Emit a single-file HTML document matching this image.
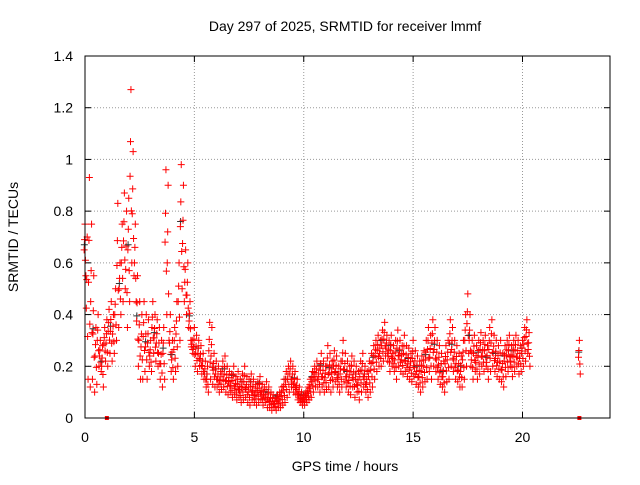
<!DOCTYPE html>
<html><head><meta charset="utf-8"><style>
body{margin:0;background:#fff;}
svg text{font-family:"Liberation Sans",sans-serif;font-size:14px;fill:#000;}
</style></head><body>
<svg id="chart" width="640" height="480" xmlns="http://www.w3.org/2000/svg">
<rect width="640" height="480" fill="#fff"/>
<text x="345" y="31" text-anchor="middle">Day 297 of 2025, SRMTID for receiver lmmf</text>
<text transform="translate(18,237) rotate(-90)" text-anchor="middle">SRMTID / TECUs</text>
<text x="345" y="471" text-anchor="middle">GPS time / hours</text>
<g id="grid"></g>
<g id="ticks"></g>
<g id="marks"></g>
<rect x="85" y="56" width="525" height="362" fill="none" stroke="#000" stroke-width="1"/>
</svg>
<script>
const xTicks=[0,5,10,15,20];
const yTicks=[0,0.2,0.4,0.6,0.8,1,1.2,1.4];
const yTickLabels=["0","0.2","0.4","0.6","0.8","1","1.2","1.4"];
const times=[0.0,0.1,0.2,0.3,0.4,0.5,0.6,0.7,0.8,0.9,1.0,1.1,1.2,1.3,1.4,1.5,1.6,1.7,1.8,1.9,2.0,2.1,2.2,2.3,2.4,2.5,2.6,2.7,2.8,2.9,3.0,3.1,3.2,3.3,3.4,3.5,3.6,3.7,3.8,3.9,4.0,4.1,4.2,4.3,4.4,4.5,4.6,4.7,4.8,4.9,5.0,5.1,5.2,5.3,5.4,5.5,5.6,5.7,5.8,5.9,6.0,6.1,6.2,6.3,6.4,6.5,6.6,6.7,6.8,6.9,7.0,7.1,7.2,7.3,7.4,7.5,7.6,7.7,7.8,7.9,8.0,8.1,8.2,8.3,8.4,8.5,8.6,8.7,8.8,8.9,9.0,9.1,9.2,9.3,9.4,9.5,9.6,9.7,9.8,9.9,10.0,10.1,10.2,10.3,10.4,10.5,10.6,10.7,10.8,10.9,11.0,11.1,11.2,11.3,11.4,11.5,11.6,11.7,11.8,11.9,12.0,12.1,12.2,12.3,12.4,12.5,12.6,12.7,12.8,12.9,13.0,13.1,13.2,13.3,13.4,13.5,13.6,13.7,13.8,13.9,14.0,14.1,14.2,14.3,14.4,14.5,14.6,14.7,14.8,14.9,15.0,15.1,15.2,15.3,15.4,15.5,15.6,15.7,15.8,15.9,16.0,16.1,16.2,16.3,16.4,16.5,16.6,16.7,16.8,16.9,17.0,17.1,17.2,17.3,17.4,17.5,17.6,17.7,17.8,17.9,18.0,18.1,18.2,18.3,18.4,18.5,18.6,18.7,18.8,18.9,19.0,19.1,19.2,19.3,19.4,19.5,19.6,19.7,19.8,19.9,20.0,20.1,20.2,20.3,22.6];
const upper=[.75,.70,.93,.75,.55,.35,.40,.30,.28,.35,.38,.42,.45,.40,.50,.83,.60,.75,.87,.80,.85,1.27,1.03,.75,.55,.45,.40,.45,.40,.38,.30,.45,.40,.38,.35,.30,.35,.96,.90,.40,.30,.35,.45,.60,.98,.90,.65,.60,.45,.30,.35,.32,.30,.28,.25,.22,.20,.37,.35,.25,.22,.20,.18,.22,.24,.20,.18,.17,.20,.16,.18,.15,.17,.20,.16,.15,.17,.15,.13,.14,.16,.13,.12,.14,.12,.10,.09,.08,.09,.10,.12,.15,.18,.20,.22,.20,.18,.15,.12,.10,.09,.10,.12,.15,.18,.20,.22,.20,.25,.22,.20,.28,.25,.22,.26,.24,.20,.22,.30,.25,.22,.20,.24,.22,.20,.18,.22,.25,.20,.18,.22,.25,.28,.30,.32,.30,.34,.37,.32,.30,.32,.28,.30,.34,.30,.28,.32,.28,.27,.25,.30,.26,.24,.22,.24,.26,.30,.35,.32,.38,.35,.30,.28,.25,.22,.28,.30,.38,.35,.30,.28,.25,.24,.30,.40,.48,.40,.30,.32,.28,.30,.33,.30,.32,.28,.35,.38,.32,.30,.28,.30,.25,.28,.30,.32,.28,.30,.32,.30,.28,.30,.35,.38,.33,.30];
const lower=[.55,.15,.12,.15,.10,.13,.20,.18,.12,.22,.20,.25,.22,.25,.30,.35,.40,.45,.50,.35,.45,.60,.55,.45,.20,.15,.15,.18,.15,.20,.18,.25,.22,.20,.15,.12,.15,.40,.30,.18,.15,.18,.20,.30,.50,.45,.40,.35,.30,.25,.20,.18,.20,.17,.15,.12,.10,.15,.13,.12,.12,.10,.11,.12,.10,.09,.10,.08,.09,.07,.08,.06,.07,.08,.06,.05,.07,.06,.05,.06,.07,.05,.06,.04,.04,.03,.04,.03,.04,.04,.05,.06,.08,.10,.12,.10,.09,.07,.06,.05,.05,.06,.07,.08,.10,.12,.12,.10,.12,.10,.11,.12,.10,.12,.14,.12,.10,.12,.14,.12,.10,.09,.12,.08,.10,.07,.10,.12,.10,.08,.10,.12,.15,.18,.20,.20,.22,.24,.22,.18,.20,.18,.15,.20,.18,.17,.18,.16,.15,.14,.16,.13,.12,.10,.12,.14,.15,.18,.15,.20,.18,.15,.13,.12,.10,.14,.15,.20,.18,.15,.14,.12,.12,.15,.20,.25,.20,.15,.18,.15,.17,.20,.18,.20,.15,.18,.20,.18,.16,.15,.14,.12,.16,.18,.20,.16,.18,.20,.17,.18,.20,.22,.25,.20,.17];
const zeroTimes=[1.0,22.6];
const NS="http://www.w3.org/2000/svg";
const X0=85,X1=610,Y0=418,Y1=56;
function xs(t){return X0+(t/24)*(X1-X0);}
function ys(v){return Y0-(v/1.4)*(Y0-Y1);}
const grid=document.getElementById('grid'),ticks=document.getElementById('ticks'),marks=document.getElementById('marks');
function mk(tag,a,p){const e=document.createElementNS(NS,tag);for(const k in a)e.setAttribute(k,a[k]);p.appendChild(e);return e;}
xTicks.forEach(t=>{
  const x=xs(t);
  if(t>0){const g=mk('line',{x1:x,y1:Y0,x2:x,y2:Y1,stroke:'#999','stroke-dasharray':'1,2'},grid);
  
  }
  mk('line',{x1:x,y1:Y0,x2:x,y2:Y0-6,stroke:'#000'},ticks);
  mk('line',{x1:x,y1:Y1,x2:x,y2:Y1+6,stroke:'#000'},ticks);
  const l=mk('text',{x:x,y:Y0+24,'text-anchor':'middle'},ticks);l.textContent=t;
  
  
});
yTicks.forEach((v,i)=>{
  const y=ys(v);
  if(v>0&&v<1.4){const g=mk('line',{x1:X0,y1:y,x2:X1,y2:y,stroke:'#999','stroke-dasharray':'1,2'},grid);
  
  }
  mk('line',{x1:X0,y1:y,x2:X0+6,y2:y,stroke:'#000'},ticks);
  mk('line',{x1:X1,y1:y,x2:X1-6,y2:y,stroke:'#000'},ticks);
  const l=mk('text',{x:X0-12,y:y+5,'text-anchor':'end'},ticks);l.textContent=yTickLabels[i];
  
  
});
function plus(t,v,col){
  const x=xs(t),y=ys(v);
  const p=mk('path',{d:`M${x-3.5},${y}h7M${x},${y-3.5}v7`,stroke:col,'stroke-width':1,fill:'none'},marks);
  
  
}
times.forEach((t,i)=>{
  const u=upper[i],l=lower[i];
  if(i%4===0) plus(t-0.03,(u+l)/2+0.02,'#333');
  plus(t,u,'#f00');
  plus(t+0.04,l,'#f00');
  plus(t-0.04,(u+l)/2,'#f00');
  plus(t+0.02,(u*0.3+l*0.7),'#f00');
  plus(t-0.02,(u*0.7+l*0.3),'#f00');
});
zeroTimes.forEach(t=>{
  const r=mk('rect',{x:xs(t)-2,y:Y0-2,width:4,height:4,fill:'#f00'},marks);
  
  
});
</script>
</body></html>
